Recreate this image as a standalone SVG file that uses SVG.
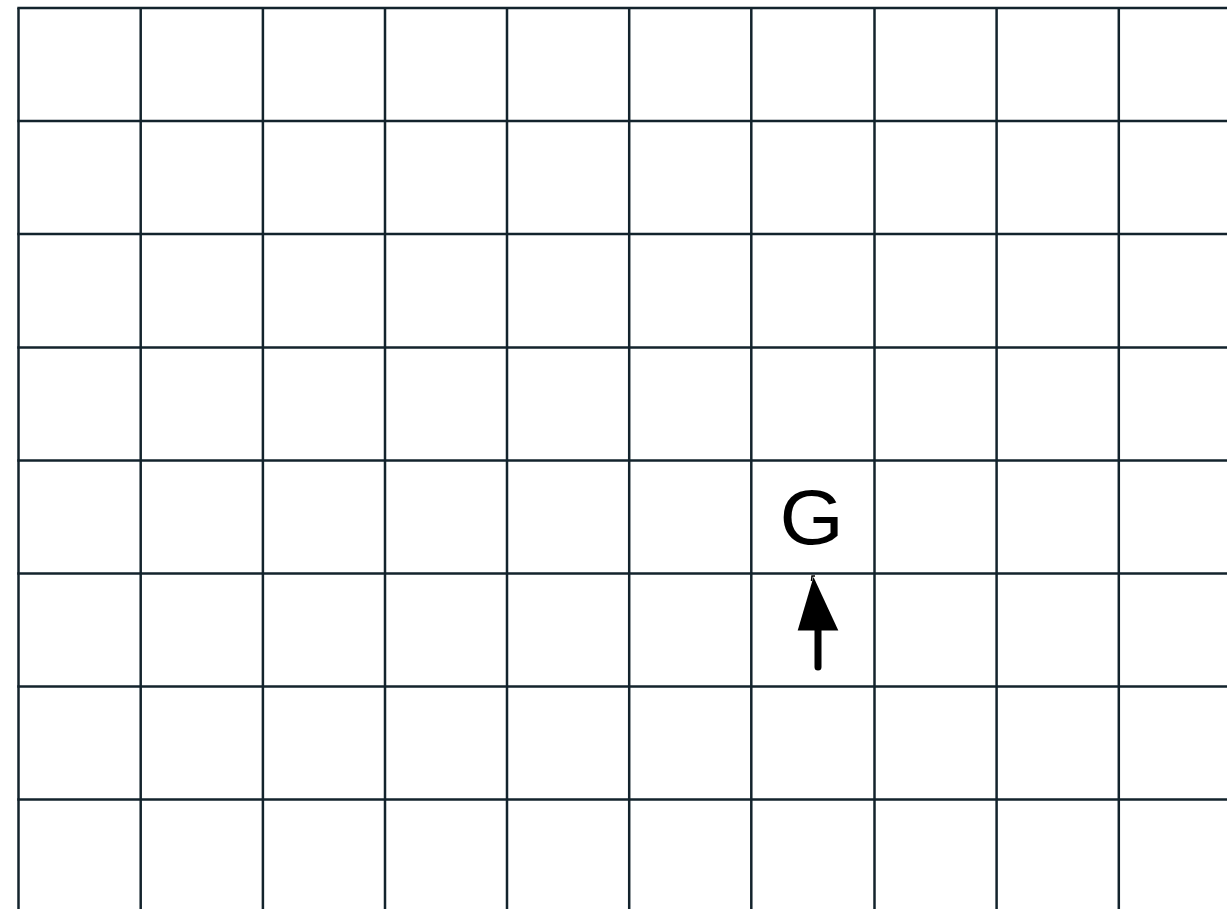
<svg xmlns="http://www.w3.org/2000/svg" width="1227" height="909" viewBox="0 0 1227 909">
<style>
.g line{stroke:#13232c;stroke-width:2.5}
.lbl{font-family:"Liberation Sans",Arial,sans-serif;font-size:78px;fill:#000}
</style>
<rect width="1227" height="909" fill="#fff"/>
<g id="grid" class="g">
<line x1="18.5" y1="8" x2="18.5" y2="909"/>
<line x1="140.7" y1="8" x2="140.7" y2="909"/>
<line x1="262.9" y1="8" x2="262.9" y2="909"/>
<line x1="385" y1="8" x2="385" y2="909"/>
<line x1="507" y1="8" x2="507" y2="909"/>
<line x1="629.2" y1="8" x2="629.2" y2="909"/>
<line x1="751.3" y1="8" x2="751.3" y2="909"/>
<line x1="874.5" y1="8" x2="874.5" y2="909"/>
<line x1="996.6" y1="8" x2="996.6" y2="909"/>
<line x1="1118.8" y1="8" x2="1118.8" y2="909"/>
<line x1="17.3" y1="8" x2="1227" y2="8"/>
<line x1="17.3" y1="121" x2="1227" y2="121"/>
<line x1="17.3" y1="234" x2="1227" y2="234"/>
<line x1="17.3" y1="347.5" x2="1227" y2="347.5"/>
<line x1="17.3" y1="460.5" x2="1227" y2="460.5"/>
<line x1="17.3" y1="573.5" x2="1227" y2="573.5"/>
<line x1="17.3" y1="686.5" x2="1227" y2="686.5"/>
<line x1="17.3" y1="799.5" x2="1227" y2="799.5"/>
</g>
<g id="G">
<text class="lbl" x="0" y="544" text-anchor="middle" transform="translate(811.7 0) scale(1.06 1)">G</text>
</g>
<g id="connectors">
<line x1="818" y1="667" x2="818" y2="625" stroke="#000" stroke-width="7" stroke-linecap="round"/>
<polygon points="813.5,577 838.3,630.5 797.7,630.5" fill="#000"/>
<polyline points="811.5,581 812,576 815,576" fill="none" stroke="#000" stroke-width="1.5"/>
</g>
</svg>
